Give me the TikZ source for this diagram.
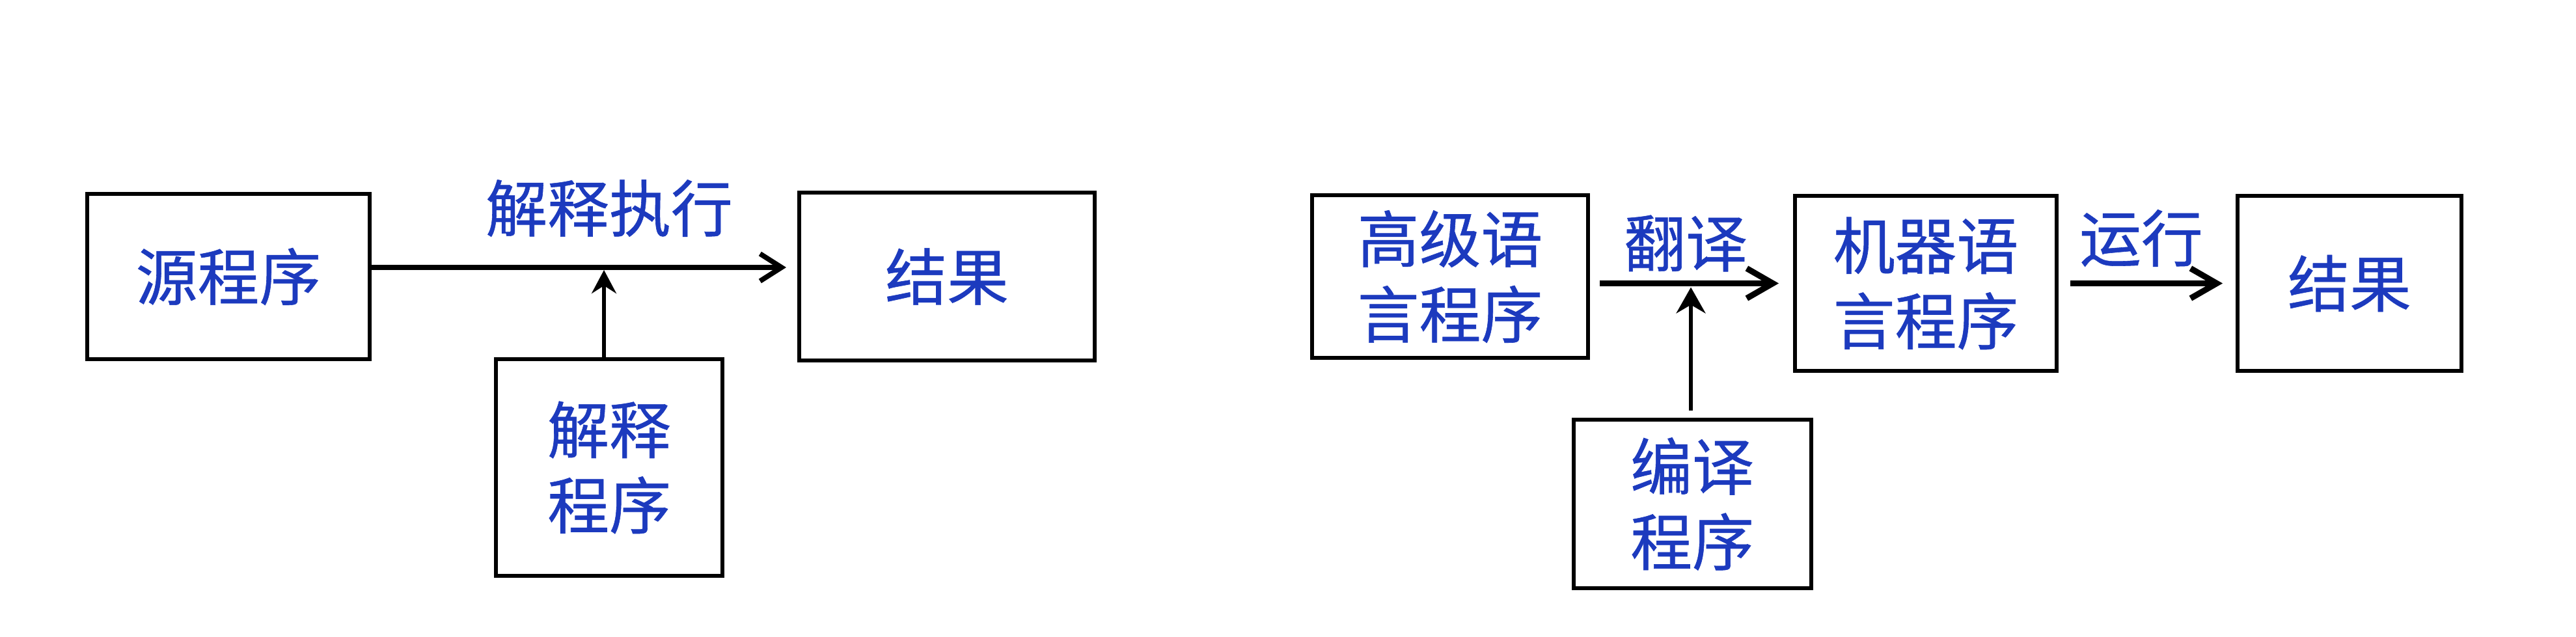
\documentclass[tikz,border=0pt]{standalone}
\usepackage{fontspec}
\newfontfamily\cjk[FakeBold=0.6]{Noto Sans CJK SC}
\usetikzlibrary{arrows.meta}
\definecolor{textblue}{RGB}{28,58,190}

\begin{document}
\begin{tikzpicture}[
    box/.style={draw=black, line width=1.7pt, text=textblue, align=center,
        inner sep=0pt, font=\cjk\fontsize{27}{33}\selectfont},
    lbl/.style={text=textblue, inner sep=0pt, font=\cjk\fontsize{27}{33}\selectfont},
    flow/.style={line width=2.2pt, -{Straight Barb[length=0.33cm, width=0.42cm, line width=2.2pt]}},
    feed/.style={line width=1.5pt, -{Stealth[length=0.36cm, width=0.38cm, inset=0.12cm]}}
]
    \useasboundingbox (0,0) rectangle (39.58,9.78);

    % Draw nodes: interpretation
    \node[box, minimum width=4.34cm, minimum height=2.54cm] (src) at (3.51,5.53) {源程序};
    \node[box, minimum width=4.54cm, minimum height=2.58cm] (resA) at (14.55,5.53) {结果};
    \node[box, minimum width=3.48cm, minimum height=3.33cm] (interp) at (9.36,2.595) {解释\\程序};
    \node[lbl] (execlbl) at (9.36,6.58) {解释执行};

    % Draw nodes: compilation
    \node[box, minimum width=4.24cm, minimum height=2.50cm] (high) at (22.28,5.53) {高级语\\言程序};
    \node[box, minimum width=4.02cm, minimum height=2.69cm] (mach) at (29.59,5.425) {机器语\\言程序};
    \node[box, minimum width=3.44cm, minimum height=2.69cm] (resB) at (36.10,5.425) {结果};
    \node[box, minimum width=3.65cm, minimum height=2.59cm] (comp) at (26.00,2.035) {编译\\程序};
    \node[lbl] (translbl) at (25.90,6.04) {翻译};
    \node[lbl] (runlbl) at (32.90,6.12) {运行};

    % Draw edges
    \coordinate (joinA) at ([xshift=-0.08cm]interp.north |- 0,5.67);
    \draw[flow, shorten >=0.17cm] ([yshift=0.14cm]src.east) -- ([yshift=0.14cm]resA.west);
    \draw[feed] ([xshift=-0.08cm]interp.north) -- ([yshift=-0.04cm]joinA);

    \coordinate (joinB) at ([xshift=-0.02cm]comp.north |- mach.west);
    \draw[flow, line width=2.8pt, shorten <=0.15cm, shorten >=0.22cm,
        -{Straight Barb[length=0.4cm, width=0.46cm, line width=2.6pt]}] (high.east |- mach.west) -- (mach.west);
    \draw[feed, -{Stealth[length=0.4cm, width=0.45cm, inset=0.13cm]}] ([xshift=-0.02cm, yshift=0.11cm]comp.north) -- ([yshift=-0.06cm]joinB);
    \draw[flow, line width=2.8pt, shorten <=0.18cm, shorten >=0.2cm,
        -{Straight Barb[length=0.4cm, width=0.46cm, line width=2.6pt]}] (mach.east) -- (resB.west);
\end{tikzpicture}
\end{document}
